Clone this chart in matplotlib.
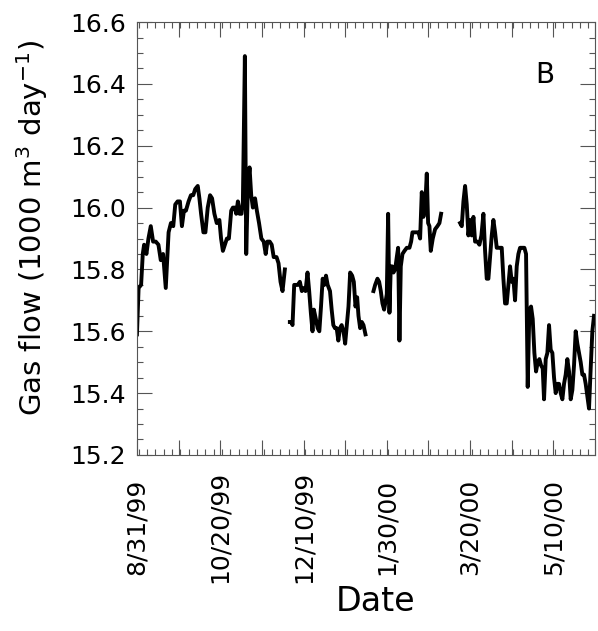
import numpy as np
import pandas as pd
import matplotlib
matplotlib.use("Agg")
import matplotlib.pyplot as plt
from matplotlib.ticker import FixedLocator, MultipleLocator

plt.rcParams['font.family'] = ['DejaVu Sans']

start = pd.Timestamp("1999-08-31")

# days after 8/31/99 and gas flow (1000 m3/day); the four pieces are separate runs
days_1 = [0, 1, 2.5, 3.5, 4.3, 5.7, 6.9, 8.3, 9.7, 11.3, 12.9, 14.3, 15.7, 17.3, 19, 20.4,
          21.8, 23, 24.4, 25.8, 27, 28.2, 29.4, 31, 32.4, 33.8, 35, 36.5, 37.5, 38.5, 39.9,
          41.1, 42.5, 43.9, 45.1, 46.5, 47.9, 49.5, 50.5, 51.6, 52.8, 54, 55.2, 56.6, 57.6,
          58.8, 59.6, 60.6, 61.6, 62.8, 63.6, 64.8, 65.6, 66.6, 67.6, 68.6, 69.6, 70.9, 72,
          73.3, 74.7, 76.1, 77.3, 78.3, 79.7, 80.9, 82.1, 83.8, 85, 86.2, 87.4, 88.8]
flow_1 = [15.59, 15.74, 15.75, 15.85, 15.88, 15.85, 15.90, 15.94, 15.89, 15.89, 15.88, 15.83,
          15.85, 15.74, 15.92, 15.95, 15.94, 16.01, 16.02, 16.02, 15.94, 15.99, 15.99, 16.02,
          16.04, 16.04, 16.06, 16.07, 16.03, 15.98, 15.92, 15.92, 16.00, 16.04, 16.03, 15.98,
          15.95, 15.96, 15.90, 15.86, 15.88, 15.90, 15.90, 15.99, 16.00, 16.00, 15.98, 16.02,
          15.98, 15.98, 16.02, 16.49, 15.85, 16.07, 16.13, 16.04, 16.00, 16.03, 15.99, 15.95,
          15.90, 15.89, 15.85, 15.89, 15.89, 15.88, 15.84, 15.84, 15.82, 15.76, 15.73, 15.80]

days_2 = [91.8, 92.8, 93.4, 94.4, 95.4, 96.6, 97.8, 99, 100.2, 101.2, 102.4, 103.4, 104.4,
          105.4, 106.2, 107.4, 108.5, 109.5, 110.5, 111.5, 112.5, 113.5, 114.5, 115.9, 116.9,
          117.9, 118.9, 119.9, 120.9, 121.9, 122.9, 124, 125, 126, 127, 128, 129.2, 130.2,
          131.2, 132.2, 133, 134, 135, 136, 137.2]
flow_2 = [15.63, 15.63, 15.62, 15.75, 15.75, 15.75, 15.76, 15.73, 15.74, 15.73, 15.79, 15.73,
          15.66, 15.60, 15.67, 15.64, 15.61, 15.60, 15.68, 15.77, 15.75, 15.78, 15.75, 15.73,
          15.67, 15.62, 15.61, 15.61, 15.57, 15.61, 15.62, 15.60, 15.56, 15.62, 15.68, 15.79,
          15.78, 15.76, 15.68, 15.71, 15.65, 15.61, 15.63, 15.62, 15.59]

days_3 = [142, 143, 144.4, 145.4, 146.4, 147.4, 148.4, 149.4, 150, 150.8, 151.6, 152.4, 153.2,
          154, 155, 156, 156.8, 157.6, 158.4, 159.4, 160.6, 162, 163.6, 164.6, 165.4, 166.4,
          167.6, 169, 170, 171, 172, 173.2, 174, 174.8, 175.6, 176.4, 177.6, 179, 180.4,
          181.6, 182.6]
flow_3 = [15.73, 15.75, 15.77, 15.76, 15.73, 15.69, 15.67, 15.70, 15.72, 15.98, 15.66, 15.81,
          15.81, 15.79, 15.80, 15.84, 15.87, 15.57, 15.81, 15.85, 15.86, 15.87, 15.87, 15.89,
          15.92, 15.92, 15.92, 15.92, 15.90, 16.05, 15.97, 16.02, 16.11, 15.95, 15.94, 15.86,
          15.90, 15.93, 15.94, 15.95, 15.98]

days_4 = [194, 195, 196, 197, 198, 199, 200, 201, 202, 203, 204.4, 205.6, 206.8, 208, 209,
          210, 211, 212, 213, 214, 215, 216, 217, 218, 219, 220, 221, 222, 223, 224, 225,
          226, 227, 228, 229, 230, 231.4, 232.6, 233.6, 234.6, 235.6, 236.6, 237.6, 238.6,
          239.6, 240.6, 241.6, 242.6, 243.6, 244.4, 245.4, 246.4, 247.4, 248.4, 249.4, 250.4,
          251.4, 252.4, 253.4, 254.4, 255.4, 256.4, 257.4, 258.4, 259.4, 260.4, 261.4, 262.4,
          263.4, 264.4, 265.4, 266.4, 267.4, 268.4, 269.4, 270.4, 271.4, 272.4, 273.4, 274.4]
flow_4 = [15.95, 15.94, 16.02, 16.07, 16.01, 15.91, 15.96, 15.91, 15.97, 15.89, 15.89, 15.88,
          15.91, 15.98, 15.86, 15.77, 15.77, 15.84, 15.91, 15.96, 15.92, 15.87, 15.87, 15.87,
          15.87, 15.77, 15.69, 15.69, 15.75, 15.81, 15.76, 15.77, 15.70, 15.81, 15.85, 15.87,
          15.87, 15.87, 15.85, 15.42, 15.67, 15.68, 15.64, 15.53, 15.47, 15.50, 15.51, 15.49,
          15.48, 15.38, 15.51, 15.53, 15.62, 15.54, 15.53, 15.45, 15.40, 15.43, 15.43, 15.40,
          15.38, 15.43, 15.46, 15.51, 15.47, 15.38, 15.41, 15.49, 15.60, 15.56, 15.53, 15.50,
          15.46, 15.46, 15.43, 15.39, 15.35, 15.48, 15.60, 15.65]

tick_days = [0, 25, 50, 75, 100, 125, 150, 175, 200, 225, 250, 275]
tick_labels = ["8/31/99", "", "10/20/99", "", "12/10/99", "", "1/30/00", "", "3/20/00", "",
               "5/10/00", ""]

fig = plt.figure(figsize=(5.98, 6.31), dpi=100)
ax = fig.add_axes([0.229, 0.279, 0.766, 0.686])

for d, f in [(days_1, flow_1), (days_2, flow_2), (days_3, flow_3), (days_4, flow_4)]:
    x = start + pd.to_timedelta(d, unit="D")
    ax.plot(x, f, color="black", lw=2.8)

x0 = matplotlib.dates.date2num(start)
ax.set_xlim(x0, x0 + 275)
ax.set_ylim(15.2, 16.6)
ax.xaxis.set_major_locator(FixedLocator([x0 + t for t in tick_days]))
ax.xaxis.set_minor_locator(MultipleLocator(5))
ax.set_xticklabels(tick_labels, rotation=90, va="center", fontsize=17.5)
ax.yaxis.set_major_locator(MultipleLocator(0.2))
ax.yaxis.set_minor_locator(MultipleLocator(0.05))
ax.yaxis.set_major_formatter(matplotlib.ticker.FormatStrFormatter("%.1f"))

ax.tick_params(which="both", direction="in", top=True, right=True, color="#555555", width=0.8)
ax.tick_params(which="major", length=11, labelsize=18, pad=8)
ax.tick_params(axis="x", which="major", pad=52)
ax.tick_params(which="minor", length=4.5)
for s in ax.spines.values():
    s.set_color("#555555")
    s.set_linewidth(0.8)

ax.set_ylabel("Gas flow (1000 m$^3$ day$^{-1}$)", fontsize=21)
ax.yaxis.set_label_coords(-0.19, 0.524)
ax.set_xlabel("Date", fontsize=24)
ax.xaxis.set_label_coords(0.52, -0.30)
ax.text(0.89, 0.877, "B", transform=ax.transAxes, fontsize=20, ha="center", va="center")

fig.savefig("out.png", dpi=100)
